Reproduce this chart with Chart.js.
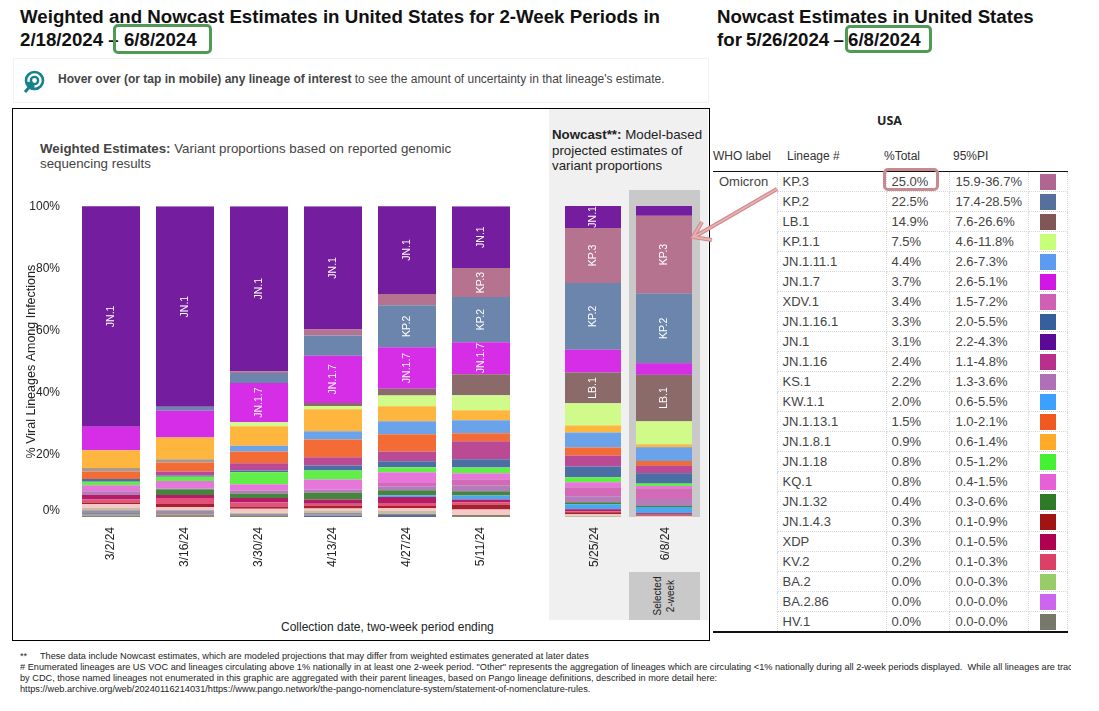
<!DOCTYPE html>
<html>
<head>
<meta charset="utf-8">
<script src="https://cdn.jsdelivr.net/npm/chart.js@4"></script>
<style>
  html, body { margin:0; padding:0; background:#fff; }
  body { width:1099px; height:711px; position:relative; overflow:hidden; font-family:"Liberation Sans", Arial, sans-serif; }
  .abs { position:absolute; white-space:nowrap; }
  .title { font-weight:bold; font-size:18.7px; color:#111; line-height:23px; }
  .greenbox { position:absolute; border:3.5px solid #4f9a57; border-radius:5px; box-sizing:border-box; }
  table { border-collapse:collapse; table-layout:fixed; position:absolute; left:713px; top:171px; width:354px; font-size:13px; color:#444; }
  td { height:20px; padding:0; border:1px dotted #d8d8d8; line-height:19px; box-sizing:border-box; }
  table { border-top:1px solid #111; border-bottom:2px solid #111; }
  td.sw div { width:16px; height:16px; margin:1px 0 0 11px; }
  td.lin { padding-left:5px; } td.pct { padding-left:5px; } td.pi { padding-left:6px; }
  td.who { border:none; padding-left:6px; vertical-align:top; }
</style>
</head>
<body>

<div class="abs title" style="left:20px;top:5px">Weighted and Nowcast Estimates in United States for 2-Week Periods in<br>2/18/2024 – 6/8/2024</div>
<div class="greenbox" style="left:113px;top:24px;width:99px;height:30px"></div>
<div class="abs title" style="left:717px;top:5px">Nowcast Estimates in United States<br><span style="word-spacing:-1px">for 5/26/2024 – 6/8/2024</span></div>
<div class="greenbox" style="left:845px;top:25px;width:87px;height:28px"></div>

<div class="abs" style="left:13px;top:58px;width:694px;height:43px;border:1px solid #f2f2f2"></div>
<svg class="abs" style="left:22px;top:70px" width="24" height="24" viewBox="0 0 24 24">
  <circle cx="12.5" cy="10.5" r="8.5" fill="none" stroke="#17818f" stroke-width="2.6"/>
  <circle cx="12.5" cy="10.5" r="3.6" fill="none" stroke="#17818f" stroke-width="2.4"/>
  <path d="M3 22 L11 13 M11 13 L5 13.5 M11 13 L11 19" stroke="#17818f" stroke-width="3" fill="none"/>
</svg>
<div class="abs" style="left:58px;top:72px;font-size:12px;color:#444"><b>Hover over (or tap in mobile) any lineage of interest</b> to see the amount of uncertainty in that lineage's estimate.</div>

<!-- main box and the nowcast panel -->
<div class="abs" style="left:12px;top:108px;width:696px;height:531px;border:1px solid #000"></div>
<div class="abs" style="left:549px;top:109px;width:159px;height:511px;background:#f0f0f0"></div>
<div class="abs" style="left:629px;top:190px;width:71px;height:327px;background:#c9c9c9"></div>
<div class="abs" style="left:629px;top:572px;width:71px;height:48px;background:#c9c9c9"></div>
<div class="abs" style="left:664px;top:596px;font-size:10px;line-height:13px;color:#222;text-align:center;transform:translate(-50%,-50%) rotate(-90deg)">Selected<br>2-week</div>

<div class="abs" style="left:40px;top:141px;font-size:13.3px;line-height:15px;color:#444"><b>Weighted Estimates:</b> Variant proportions based on reported genomic<br>sequencing results</div>
<div class="abs" style="left:552px;top:127px;font-size:13.3px;line-height:15.5px;color:#222"><b>Nowcast**:</b> Model-based<br>projected estimates of<br>variant proportions</div>

<canvas id="weightedChart" class="abs" style="left:20px;top:193px" width="510" height="384"></canvas>
<canvas id="nowcastChart" class="abs" style="left:550px;top:196px" width="158" height="381"></canvas>

<div class="abs" style="left:281px;top:620px;font-size:12px;color:#222">Collection date, two-week period ending</div>

<!-- table on the right -->
<div class="abs" style="left:877px;top:112px;font-size:12.5px;font-weight:bold;color:#222;font-family:'Open Sans'">USA</div>
<div class="abs" style="left:713px;top:149px;font-size:12px;color:#333">WHO label</div>
<div class="abs" style="left:787px;top:149px;font-size:12px;color:#333">Lineage #</div>
<div class="abs" style="left:884px;top:149px;font-size:12px;color:#333">%Total</div>
<div class="abs" style="left:953px;top:149px;font-size:12px;color:#333">95%PI</div>
<table id="lineageTable"></table>
<div class="abs" style="left:883px;top:168px;width:56px;height:23px;box-sizing:border-box;border:3px solid #c98a8f;border-radius:5px"></div>

<svg class="abs" style="left:680px;top:180px" width="110" height="75">
  <path d="M97 9 L14 57 M22 42 L13 57 L32 60" stroke="#c98a8f" stroke-width="4" fill="none"/>
  <path d="M97 9 L14 57 M22 42 L13 57 L32 60" stroke="#eeaeae" stroke-width="2" fill="none"/>
</svg>

<!-- footnotes -->
<div class="abs" style="left:20px;top:651px;width:1051px;overflow:hidden;font-size:9.2px;line-height:11px;color:#222">
**&nbsp;&nbsp;&nbsp;&nbsp;&nbsp;These data include Nowcast estimates, which are modeled projections that may differ from weighted estimates generated at later dates<br>
# Enumerated lineages are US VOC and lineages circulating above 1% nationally in at least one 2-week period. "Other" represents the aggregation of lineages which are circulating &lt;1% nationally during all 2-week periods displayed.&nbsp; While all lineages are tracked<br>
by CDC, those named lineages not enumerated in this graphic are aggregated with their parent lineages, based on Pango lineage definitions, described in more detail here:<br>
https://web.archive.org/web/20240116214031/https://www.pango.network/the-pango-nomenclature-system/statement-of-nomenclature-rules.
</div>

<script>
  // periods: 6 weighted + 2 nowcast
  var weightedDates = ['3/2/24','3/16/24','3/30/24','4/13/24','4/27/24','5/11/24'];
  var nowcastDates = ['5/25/24','6/8/24'];
  var yTicks = [1.9,20,40,60,80,100];

  // values, % per period, bottom of the stack first
  var hv1       = [0.5,0,0.3,0,0,0.65,0,0];
  var lowSlate  = [0,0,0,0.5,0.9,0,0,0];
  var lowBrown  = [0,0.75,0,0,0,0,0,0];
  var lowLav    = [0.3,0,0,0.3,0,0,0,0];
  var lowDark   = [0.3,0,0,0.3,0,0,0,0];
  var lowGrey   = [1.1,1.4,0.65,0,0,0,0,0];
  var lowTan    = [0.75,0,0.4,1,1,0,0.4,0];
  var palePink  = [1.2,1,1.3,0.6,1,1.8,0.5,0.4];
  var jn143     = [0.5,1,0.75,1,0.6,1.6,0.65,0.3];
  var kv2       = [1,2,1.3,0.6,1,0.6,0.3,0.2];
  var xdp       = [1.4,0.9,1.4,1.3,1.9,1,0.65,0.3];
  var kw11      = [0,0,0,0,0.6,1.3,1.6,2];
  var jn132     = [0,1.9,1.5,2.3,1.6,1.3,0.65,0.4];
  var ks1       = [1.2,0.2,0.9,0.9,1.3,2,1.9,2.2];
  var xdv1      = [0,0,0,0,1,1.9,2.9,3.4];
  var kq1       = [2,2.4,2,3.3,3.5,1.9,1.6,0.8];
  var jn118     = [1.1,1.4,3.9,2.9,1.6,1.9,1.6,0.8];
  var jn1161    = [0.9,0.4,0.6,1.6,1.9,2.6,3.5,3.3];
  var jn116     = [0,1.3,2.3,2.6,3.2,5.8,3.5,2.4];
  var jn1131    = [2.4,2.9,3.8,5.7,5.5,2.6,2.6,1.5];
  var greyTan   = [1.1,1,0,0,0,0,0,0];
  var jn1111    = [0,0,1.8,2.7,4.2,4.2,4.8,4.4];
  var jn181     = [5.7,7,6.3,7.1,4.8,3.2,2.3,0.9];
  var kp11      = [0,0,1.3,1,3.5,4.8,7.1,7.5];
  var lb1       = [0,0,0,1,2.2,6.8,9.9,14.9];
  var jn17      = [7.6,8.6,12.6,15.2,13.3,10.3,7.3,3.7];
  var kp2       = [0,1.3,3.2,6.5,13.5,14.5,21.5,22.5];
  var kp3       = [0,0,0.6,1.9,3.65,9.35,17.7,25];
  var jn1       = [71,64.5,53.1,39.7,28.3,19.9,7.1,3.1];

  // table
  var tableLineages = ['KP.3','KP.2','LB.1','KP.1.1','JN.1.11.1','JN.1.7','XDV.1','JN.1.16.1','JN.1','JN.1.16','KS.1','KW.1.1','JN.1.13.1','JN.1.8.1','JN.1.18','KQ.1','JN.1.32','JN.1.4.3','XDP','KV.2','BA.2','BA.2.86','HV.1'];
  var tableTotals = ['25.0%','22.5%','14.9%','7.5%','4.4%','3.7%','3.4%','3.3%','3.1%','2.4%','2.2%','2.0%','1.5%','0.9%','0.8%','0.8%','0.4%','0.3%','0.3%','0.2%','0.0%','0.0%','0.0%'];
  var tablePI = ['15.9-36.7%','17.4-28.5%','7.6-26.6%','4.6-11.8%','2.6-7.3%','2.6-5.1%','1.5-7.2%','2.0-5.5%','2.2-4.3%','1.1-4.8%','1.3-3.6%','0.6-5.5%','1.0-2.1%','0.6-1.4%','0.5-1.2%','0.4-1.5%','0.3-0.6%','0.1-0.9%','0.1-0.5%','0.1-0.3%','0.0-0.3%','0.0-0.0%','0.0-0.0%'];
  var tableColors = ['#b06690','#56709e','#805656','#c8ff78','#5c9cf0','#d216e6','#cf60b4','#36609c','#5a0a96','#b8308c','#b070b8','#3ca0ff','#f05a22','#ffaa28','#46f032','#e660d8','#2e7a28','#a01414','#b00050','#dc4066','#98cc68','#cc66ee','#78786a'];

  var series = [
    ['HV.1',hv1,'#7d8a63'], ['lowSlate',lowSlate,'#5f6a90'], ['lowBrown',lowBrown,'#a3876d'],
    ['lowLav',lowLav,'#a596bb'], ['lowDark',lowDark,'#4b4560'], ['lowGrey',lowGrey,'#9b8fa8'],
    ['lowTan',lowTan,'#c8bda0'], ['palePink',palePink,'#f8c8c8'],
    ['JN.1.4.3',jn143,'#a8202e'], ['KV.2',kv2,'#e2527c'], ['XDP',xdp,'#b41c66'],
    ['KW.1.1',kw11,'#4aa8ee'], ['JN.1.32',jn132,'#46843f'], ['KS.1',ks1,'#b67bbb'],
    ['XDV.1',xdv1,'#d26ab8'], ['KQ.1',kq1,'#e676da'], ['JN.1.18',jn118,'#62ee48'],
    ['JN.1.16.1',jn1161,'#4a6fa5'], ['JN.1.16',jn116,'#bb4a94'], ['JN.1.13.1',jn1131,'#f46c35'],
    ['greyTan',greyTan,'#a89a8e'], ['JN.1.11.1',jn1111,'#6ba3ea'], ['JN.1.8.1',jn181,'#ffb63e'],
    ['KP.1.1',kp11,'#d0fb8a'], ['LB.1',lb1,'#8b6a6a'], ['JN.1.7',jn17,'#d52ee6'],
    ['KP.2',kp2,'#6b85ad'], ['KP.3',kp3,'#b5738f'], ['JN.1',jn1,'#741d9e']
  ];

  // which bars carry a name inside them
  var namedBars = { 'JN.1':[0,1,2,3,4,5,6], 'JN.1.7':[2,3,4,5], 'KP.2':[4,5,6,7], 'KP.3':[5,6,7], 'LB.1':[6,7] };

  function makeDatasets(from, to, barPct) {
    return series.map(function(s) {
      return { label:s[0], data:s[1].slice(from,to), backgroundColor:s[2], borderWidth:0,
               barPercentage:barPct, categoryPercentage:1, stack:'a' };
    });
  }

  // white rotated names in the middle of the big segments
  function barNames(firstBar) {
    return {
      id:'barNames',
      afterDatasetsDraw:function(chart) {
        var ctx = chart.ctx;
        chart.data.datasets.forEach(function(ds, d) {
          var list = namedBars[ds.label];
          if (!list) return;
          chart.getDatasetMeta(d).data.forEach(function(bar, i) {
            if (list.indexOf(i+firstBar) < 0) return;
            ctx.save();
            ctx.translate(bar.x, (bar.y+bar.base)/2);
            ctx.rotate(-Math.PI/2);
            ctx.fillStyle = '#fff';
            ctx.font = '10.5px "Liberation Sans"';
            ctx.textAlign = 'center';
            ctx.textBaseline = 'middle';
            ctx.fillText(ds.label,0,0);
            ctx.restore();
          });
        });
      }
    };
  }

  function xAxis(shift) {
    return {
      stacked:true,
      grid:{display:false}, border:{display:false},
      ticks:{autoSkip:false, minRotation:90, maxRotation:90, padding:2, labelOffset:shift, color:'#222', font:{family:'Liberation Sans',size:12}},
      afterFit:function(s){ s.height = 60; }
    };
  }

  Chart.defaults.animation = false;

  new Chart(document.getElementById('weightedChart'), {
    type:'bar',
    data:{ labels:weightedDates, datasets:makeDatasets(0,6,58/74) },
    plugins:[barNames(0)],
    options:{
      responsive:false,
      layout:{ padding:{top:7,right:12,left:0,bottom:0} },
      plugins:{ legend:{display:false}, tooltip:{enabled:true} },
      scales:{
        x:xAxis(0),
        y:{
          stacked:true, min:0, max:100,
          grid:{display:false}, border:{display:false},
          afterBuildTicks:function(s){ s.ticks = yTicks.map(function(v){ return {value:v}; }); },
          afterFit:function(s){ s.width = 54; },
          ticks:{ padding:6, color:'#222', font:{family:'Liberation Sans',size:12},
                  callback:function(v){ return Math.round(v/20)*20 + '%'; } },
          title:{ display:true, text:'% Viral Lineages Among Infections', color:'#222', padding:{top:4,bottom:4},
                  font:{family:'Liberation Sans',size:12.5} }
        }
      }
    }
  });

  new Chart(document.getElementById('nowcastChart'), {
    type:'bar',
    data:{ labels:nowcastDates, datasets:makeDatasets(6,8,56/71) },
    plugins:[barNames(6)],
    options:{
      responsive:false,
      layout:{ padding:{top:10,right:8.5,left:7.5,bottom:0} },
      plugins:{ legend:{display:false} },
      scales:{
        x:xAxis(1.5),
        y:{ display:false, stacked:true, min:0, max:100 }
      }
    }
  });

  // fill the table
  var table = document.getElementById('lineageTable');
  var html = '<colgroup><col style="width:64px"><col style="width:109px"><col style="width:63px"><col style="width:79px"><col style="width:39px"></colgroup>';
  for (var i=0;i<tableLineages.length;i++) {
    html += '<tr>';
    if (i==0) html += '<td class="who" rowspan="'+tableLineages.length+'">Omicron</td>';
    html += '<td class="lin">'+tableLineages[i]+'</td><td class="pct">'+tableTotals[i]+'</td><td class="pi">'+tablePI[i]+'</td>';
    html += '<td class="sw"><div style="background:'+tableColors[i]+'"></div></td></tr>';
  }
  table.innerHTML = html;
</script>
</body>
</html>
